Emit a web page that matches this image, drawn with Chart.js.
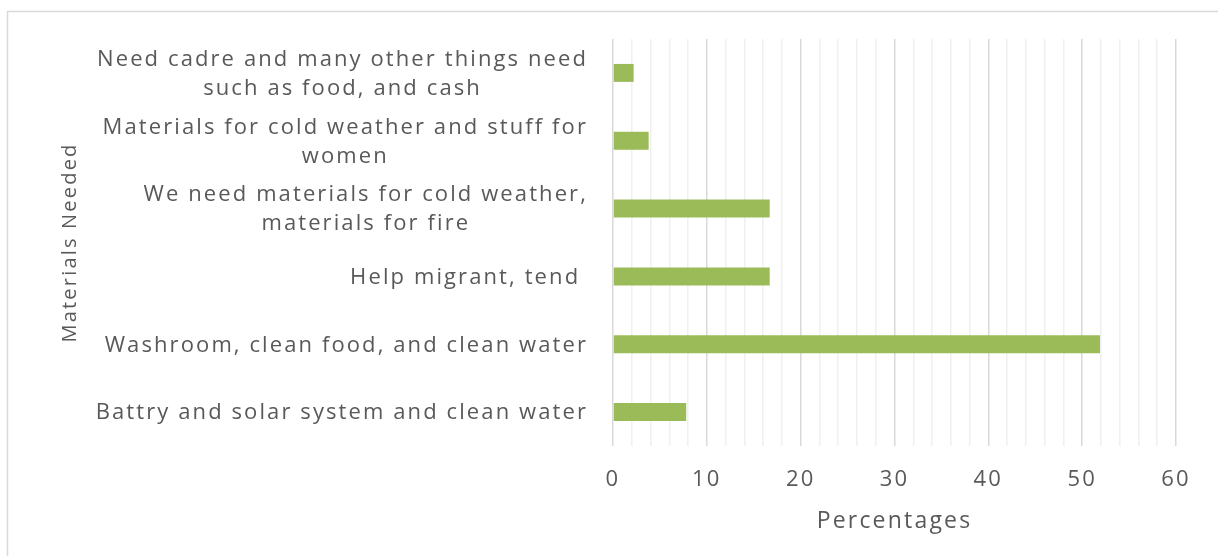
<!DOCTYPE html>
<html>
<head>
<meta charset="utf-8">
<script src="https://cdn.jsdelivr.net/npm/chart.js@4.4.1/dist/chart.umd.min.js"></script>
<style>
  html, body { margin: 0; padding: 0; background: #fff; }
  canvas { display: block; }
</style>
</head>
<body>
<canvas id="needsChart" width="1218" height="556"></canvas>
<script>
// data
const categories = [
    ['Need cadre and many other things need', 'such as food, and cash'],
    ['Materials for cold weather and stuff for', 'women'],
    ['We need materials for cold weather,', 'materials for fire'],
    'Help migrant, tend ',
    'Washroom, clean food, and clean water',
    'Battry and solar system and clean water'
];
const percentages = [2.2, 3.8, 16.7, 16.7, 51.9, 7.8];
const xTicks = [0, 10, 20, 30, 40, 50, 60];

const FONT = '"Open Sans", "Noto Sans", sans-serif';
const TEXT = '#595959';

// grey frame round the whole chart, plus the wide letter spacing of the original
const framePlugin = {
    id: 'frame',
    beforeDraw(chart) {
        const ctx = chart.ctx;
        ctx.save();
        ctx.fillStyle = '#fff';
        ctx.fillRect(0, 0, chart.width, chart.height);
        ctx.strokeStyle = '#d9d9d9';
        ctx.lineWidth = 1.5;
        ctx.strokeRect(7.5, 11.5, chart.width + 20, chart.height + 20);
        ctx.restore();
        ctx.letterSpacing = '2.2px';
    }
};

// category labels: block right aligned, lines centred to each other
const catLabels = {
    id: 'catLabels',
    afterDraw(chart) {
        const ctx = chart.ctx;
        const yScale = chart.scales.y;
        const right = chart.chartArea.left - 25;
        ctx.save();
        ctx.font = '22px ' + FONT;
        ctx.letterSpacing = '2.1px';
        ctx.fillStyle = TEXT;
        ctx.textAlign = 'center';
        ctx.textBaseline = 'middle';
        categories.forEach((lab, i) => {
            const lines = Array.isArray(lab) ? lab : [lab];
            const w = Math.max(...lines.map(l => ctx.measureText(l).width));
            const cx = right - w / 2;
            const cy = yScale.getPixelForValue(i);
            lines.forEach((ln, k) => {
                ctx.fillText(ln, cx, cy + 1 + (k - (lines.length - 1) / 2) * 29);
            });
        });
        ctx.restore();
    }
};

const ctx = document.getElementById('needsChart').getContext('2d');
new Chart(ctx, {
    type: 'bar',
    data: {
        labels: categories,
        datasets: [{
            data: percentages,
            backgroundColor: '#9bbb59',
            categoryPercentage: 1,
            barPercentage: 0.265
        }]
    },
    options: {
        indexAxis: 'y',
        responsive: false,
        animation: false,
        devicePixelRatio: 1,
        layout: { padding: { left: 0, right: 42, top: 39, bottom: 0 } },
        plugins: {
            legend: { display: false },
            tooltip: { enabled: false }
        },
        scales: {
            x: {
                min: 0, max: 60,
                afterFit: s => { s.height = 110; },
                afterBuildTicks: s => {
                    const t = [];
                    for (let v = 0; v <= 60; v += 2) t.push({ value: v });
                    s.ticks = t;
                },
                ticks: {
                    color: TEXT,
                    font: { family: FONT, size: 22 },
                    padding: 21,
                    maxRotation: 0,
                    autoSkip: false,
                    callback: v => xTicks.includes(v) ? String(v) : ''
                },
                grid: {
                    drawTicks: false,
                    lineWidth: 1.5,
                    color: c => (c.tick && c.tick.value % 10 === 0) ? '#d9d9d9' : '#f0f0f0'
                },
                border: { display: false },
                title: {
                    display: true,
                    text: 'Percentages',
                    color: TEXT,
                    font: { family: FONT, size: 23 },
                    padding: { top: 0, bottom: 21 }
                }
            },
            y: {
                afterFit: s => { s.width = 613; },
                ticks: { display: false },
                grid: { display: false },
                border: { display: false },
                title: {
                    display: true,
                    text: 'Materials Needed',
                    color: TEXT,
                    font: { family: FONT, size: 20 },
                    padding: { top: 58, bottom: 0 }
                }
            }
        }
    },
    plugins: [framePlugin, catLabels]
});
</script>
</body>
</html>
